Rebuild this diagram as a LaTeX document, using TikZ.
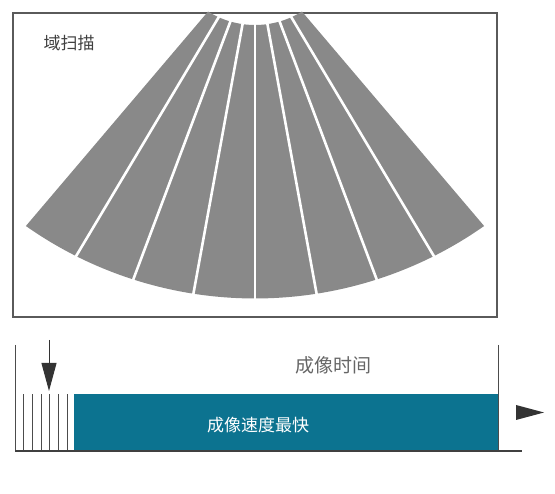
\documentclass[tikz,border=0pt]{standalone}
\usepackage{fontspec}
\newfontfamily\cjk{Noto Sans CJK SC}
\usetikzlibrary{arrows.meta, positioning}
\definecolor{fangrey}{HTML}{898989}
\definecolor{framegrey}{HTML}{5A5A5A}
\definecolor{scanteal}{HTML}{0C7390}
\tikzset{
	x=1pt, y=1pt,
	frame/.style={draw=framegrey, line width=1.3pt},
	sector line/.style={white, line width=2.6pt},
	tickline/.style={draw=black!70, line width=0.9pt},
	cjktext/.style={font=\cjk\fontsize{17}{20}\selectfont, inner sep=0pt},
	>={Triangle[length=28pt, width=15pt]}}

\begin{document}
\begin{tikzpicture}
		
		\useasboundingbox (0,0) rectangle (555,494);
		
		% upper frame and fan
		\draw[frame] (13,177) rectangle (497,481);
		\coordinate (O) at (255,594);
		\coordinate (I) at (255,557.6);
		\fill[fangrey] ([shift={(238:88.6)}]I) -- ([shift={(234.9:398.5)}]O)
			arc[start angle=234.9, end angle=305.1, radius=398.5]
			-- ([shift={(302:88.6)}]I)
			arc[start angle=302, end angle=238, radius=88.6] -- cycle;
		\foreach \k in {-3,...,3}
			\draw[sector line] ([shift={(270+8*\k:86)}]I) -- ([shift={(270+8.9*\k:401)}]O);
		\node[cjktext, text=black!75] (domain) at (69,451) {域扫描};
		
		% time line
		\coordinate (t0) at (15,43);
		\coordinate (t1) at (522,43);
		\fill[scanteal] (74,43) rectangle (498,100);
		\foreach \i in {1,...,6}
			\draw[tickline] (15+8.7*\i,43) -- (15+8.7*\i,100);
		\draw[tickline] (15,149) -- (t0);
		\draw[tickline] (498,149) -- (498,43);
		\draw[draw=black!75, line width=1.4pt] (t0) -- (t1);
		\coordinate (arrtop) at (49,154);
		\coordinate (arrtip) at (49,103);
		\draw[->, black!80, line width=1pt] (arrtop) -- (arrtip);
		\fill[black!80] (516,89) -- (544,81.5) -- (516,74) -- cycle;
		\node[cjktext, text=black!60, font=\cjk\fontsize{19}{22}\selectfont] (imgtime) at (333,129) {成像时间};
		\node[cjktext, text=white] (fastest) at (258,69) {成像速度最快};
		
	\end{tikzpicture}
\end{document}
